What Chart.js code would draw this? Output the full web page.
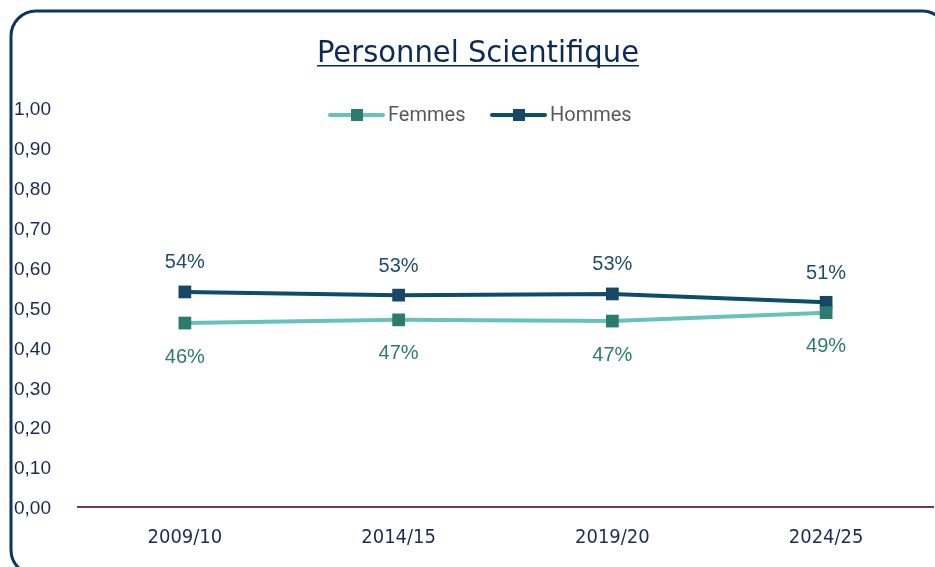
<!DOCTYPE html>
<html>
<head>
    <title>Personnel Scientifique</title>
    <meta charset="UTF-8">
    <script src="https://cdn.jsdelivr.net/npm/chart.js"></script>
    <style>
        body { margin: 0; background: #ffffff; }
        #chartContainer { width: 935px; height: 567px; }
    </style>
</head>
<body>
    <div id="chartContainer">
        <canvas id="lineChart" width="935" height="567"></canvas>
    </div>

    <script>
        // chart data
        var years = ['2009/10', '2014/15', '2019/20', '2024/25'];
        var femmes = [0.461, 0.469, 0.466, 0.487];
        var hommes = [0.539, 0.531, 0.534, 0.513];
        var seriesNames = ['Femmes', 'Hommes'];
        var chartTitle = 'Personnel Scientifique';

        var lineColors = ['#66c3b9', '#0d4d66'];
        var markerColors = ['#2d7a6f', '#174766'];
        var labelColors = ['#2e7a70', '#1f4d6c'];

        var condensed = '"DejaVu Sans Condensed", "Liberation Sans Narrow", sans-serif';

        // frame, title and legend drawn by hand
        var decorPlugin = {
            id: 'decor',
            beforeDraw: function (chart) {
                var ctx = chart.ctx;
                ctx.save();
                ctx.fillStyle = '#ffffff';
                ctx.fillRect(0, 0, chart.width, chart.height);
                ctx.restore();
            },
            afterDraw: function (chart) {
                var ctx = chart.ctx;
                ctx.save();
                // rounded frame, runs off right and bottom edges
                ctx.strokeStyle = '#0f3460';
                ctx.lineWidth = 3;
                ctx.beginPath();
                ctx.roundRect(11, 11, 936, 564, 25);
                ctx.stroke();

                // title, underlined, squeezed to the reference width
                ctx.fillStyle = '#0b2a57';
                ctx.font = '30px ' + condensed;
                ctx.textBaseline = 'alphabetic';
                var target = 322;
                var sx = target / ctx.measureText(chartTitle).width;
                ctx.save();
                ctx.translate(478 - target / 2, 62);
                ctx.scale(sx, 1);
                ctx.fillText(chartTitle, 0, 0);
                ctx.restore();
                ctx.fillRect(478 - target / 2, 65, target, 1.5);

                // legend
                var items = [{x: 330, tx: 388}, {x: 492, tx: 550}];
                ctx.font = '20px Roboto, sans-serif';
                ctx.textBaseline = 'middle';
                ctx.textAlign = 'left';
                items.forEach(function (it, i) {
                    ctx.strokeStyle = lineColors[i];
                    ctx.lineWidth = 4;
                    ctx.lineCap = 'round';
                    ctx.beginPath();
                    ctx.moveTo(it.x, 115);
                    ctx.lineTo(it.x + 53, 115);
                    ctx.stroke();
                    ctx.fillStyle = markerColors[i];
                    ctx.fillRect(it.x + 21, 109, 12, 12);
                    ctx.fillStyle = '#595959';
                    ctx.fillText(seriesNames[i], it.tx, 116);
                });
                ctx.restore();
            }
        };

        // percent labels above (Hommes) and below (Femmes) the points
        var valueLabels = {
            id: 'valueLabels',
            afterDatasetsDraw: function (chart) {
                var ctx = chart.ctx;
                ctx.save();
                ctx.font = '20px "Liberation Sans", Arial, sans-serif';
                ctx.textAlign = 'center';
                ctx.textBaseline = 'middle';
                chart.data.datasets.forEach(function (ds, i) {
                    var meta = chart.getDatasetMeta(i);
                    ctx.fillStyle = labelColors[i];
                    meta.data.forEach(function (pt, j) {
                        var txt = Math.round(ds.data[j] * 100) + '%';
                        var dy = i === 0 ? 34 : -29;
                        ctx.fillText(txt, pt.x, pt.y + dy);
                    });
                });
                ctx.restore();
            }
        };

        var ctx = document.getElementById('lineChart').getContext('2d');
        var chart = new Chart(ctx, {
            type: 'line',
            data: {
                labels: years,
                datasets: [{
                    label: seriesNames[0],
                    data: femmes,
                    borderColor: lineColors[0],
                    backgroundColor: markerColors[0],
                    borderWidth: 4,
                    pointStyle: 'rect',
                    pointRadius: 9,
                    pointBorderWidth: 0,
                    pointBackgroundColor: markerColors[0],
                    tension: 0
                }, {
                    label: seriesNames[1],
                    data: hommes,
                    borderColor: lineColors[1],
                    backgroundColor: markerColors[1],
                    borderWidth: 4,
                    pointStyle: 'rect',
                    pointRadius: 9,
                    pointBorderWidth: 0,
                    pointBackgroundColor: markerColors[1],
                    tension: 0
                }]
            },
            options: {
                responsive: false,
                animation: false,
                layout: { autoPadding: false, padding: { left: 14, top: 108, right: 2, bottom: 0 } },
                plugins: {
                    legend: { display: false },
                    title: { display: false },
                    tooltip: { enabled: false }
                },
                scales: {
                    x: {
                        offset: true,
                        grid: { display: false, drawTicks: false },
                        border: { display: true, color: '#6e3b62', width: 2 },
                        ticks: {
                            color: '#1b2d57',
                            padding: 19,
                            font: { family: condensed, size: 20 }
                        },
                        afterFit: function (scale) { scale.height = 60; }
                    },
                    y: {
                        min: 0,
                        max: 1,
                        grid: { display: false, drawTicks: false },
                        border: { display: false },
                        ticks: {
                            stepSize: 0.1,
                            crossAlign: 'far',
                            labelOffset: 2,
                            color: '#1a2a4f',
                            font: { family: '"Liberation Sans", Arial, sans-serif', size: 19 },
                            callback: function (value) {
                                return value.toFixed(2).replace('.', ',');
                            }
                        },
                        afterFit: function (scale) { scale.width = 64; }
                    }
                }
            },
            plugins: [decorPlugin, valueLabels]
        });
    </script>
</body>
</html>
